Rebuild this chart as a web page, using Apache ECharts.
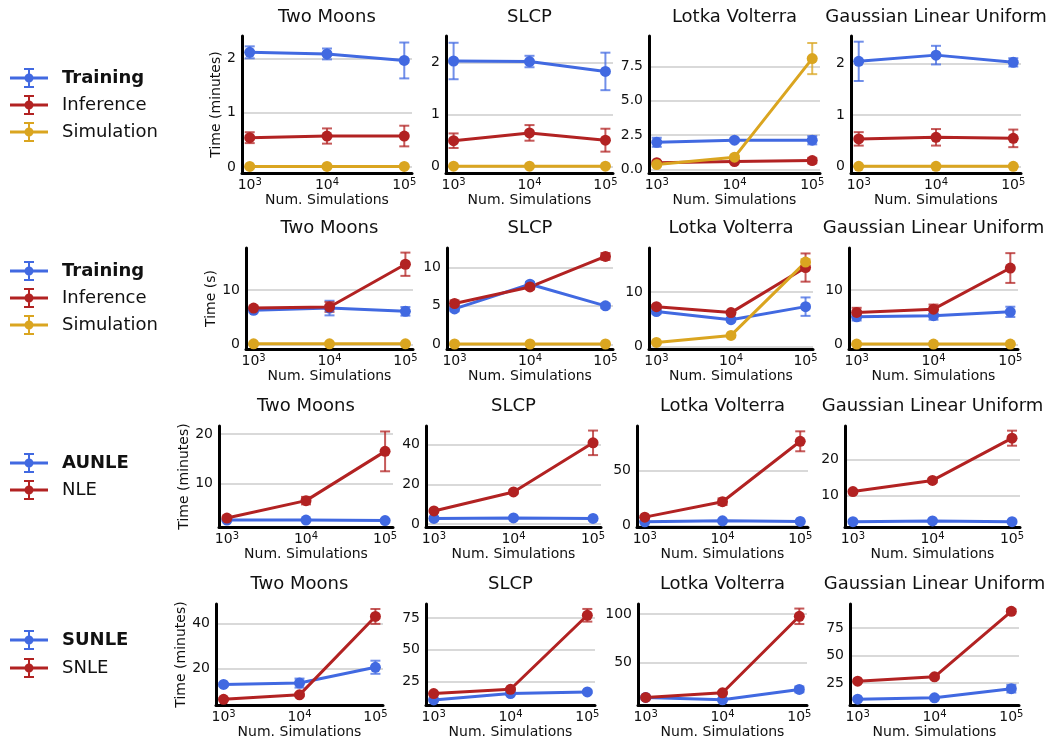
<!DOCTYPE html>
<html>
<head>
<meta charset="utf-8">
<script src="https://cdn.jsdelivr.net/npm/echarts@6/dist/echarts.min.js"></script>
<style>
  html, body { margin: 0; background: #fff; }
  #chart { width: 1050px; height: 740px; }
</style>
</head>
<body>
<div id="chart"></div>
<script>
// x values and panel titles
const numSims = [1000, 10000, 100000];
const tasks = ['Two Moons', 'SLCP', 'Lotka Volterra', 'Gaussian Linear Uniform'];

// row 1 - runtime breakdown (minutes), one sub-array per task
const trainMin = [[2.11, 2.08, 1.96], [2.03, 2.02, 1.83], [1.98, 2.13, 2.13], [2.04, 2.16, 2.02]];
const trainMinErr = [[0.11, 0.10, 0.33], [0.35, 0.11, 0.36], [0.33, 0.12, 0.30], [0.38, 0.18, 0.08]];
const inferMin = [[0.54, 0.57, 0.57], [0.50, 0.65, 0.51], [0.50, 0.58, 0.65], [0.54, 0.57, 0.55]];
const inferMinErr = [[0.10, 0.14, 0.19], [0.14, 0.15, 0.22], [0.10, 0.08, 0.20], [0.13, 0.16, 0.17]];
const simMin = [[0.01, 0.01, 0.01], [0.01, 0.01, 0.01], [0.36, 0.90, 8.06], [0.01, 0.01, 0.01]];
const simMinErr = [[0.005, 0.005, 0.005], [0.005, 0.005, 0.005], [0.05, 0.10, 1.13], [0.005, 0.005, 0.005]];

// row 2 - runtime breakdown (seconds)
const trainSec = [[6.3, 6.7, 6.1], [4.6, 7.8, 5.0], [6.4, 4.9, 7.3], [5.1, 5.3, 6.0]];
const trainSecErr = [[0.4, 1.35, 0.8], [0.3, 0.3, 0.3], [0.4, 0.3, 1.7], [0.7, 0.75, 0.95]];
const inferSec = [[6.7, 6.9, 14.8], [5.3, 7.45, 11.4], [7.3, 6.2, 14.5], [5.9, 6.5, 14.1]];
const inferSecErr = [[0.3, 0.9, 2.15], [0.4, 0.3, 0.45], [0.3, 0.3, 2.6], [0.85, 0.85, 2.75]];
const simSec = [[0.1, 0.1, 0.1], [0.05, 0.05, 0.05], [0.7, 2.0, 15.5], [0.05, 0.05, 0.05]];
const simSecErr = [[0.02, 0.02, 0.02], [0.02, 0.02, 0.02], [0.1, 0.15, 0.5], [0.02, 0.02, 0.02]];

// row 3 - AUNLE vs NLE (minutes)
const aunle = [[2.7, 2.7, 2.6], [2.8, 3.1, 2.8], [3.6, 4.5, 3.9], [2.7, 2.9, 2.7]];
const aunleErr = [[0.2, 0.2, 0.2], [0.3, 0.3, 0.3], [0.5, 0.5, 0.5], [0.2, 0.2, 0.2]];
const nle = [[3.1, 6.6, 16.5], [6.6, 16.2, 41.0], [7.8, 21.7, 76.2], [11.1, 14.2, 26.0]];
const nleErr = [[0.3, 0.75, 4.0], [0.5, 0.8, 6.2], [0.8, 3.0, 9.0], [0.3, 0.5, 2.1]];

// row 4 - SUNLE vs SNLE (minutes)
const sunle = [[13.1, 13.7, 20.7], [10.3, 15.3, 16.6], [13.8, 11.4, 22.1], [10.5, 11.7, 20.0]];
const sunleErr = [[0.6, 2.0, 2.9], [0.5, 0.8, 0.9], [0.8, 0.7, 3.0], [0.8, 1.0, 3.5]];
const snle = [[6.5, 8.5, 43.2], [15.3, 18.7, 77.1], [13.8, 18.6, 97.6], [26.8, 30.8, 90.2]];
const snleErr = [[0.5, 0.6, 3.3], [0.6, 1.0, 5.0], [0.8, 1.2, 8.0], [0.8, 1.5, 2.0]];

// y tick labels and y extents per panel
const yTicks1 = [[0, 1, 2], [0, 1, 2], [0, 2.5, 5, 7.5], [0, 1, 2]];
const yTicks2 = [[0, 10], [0, 5, 10], [0, 10], [0, 10]];
const yTicks3 = [[10, 20], [0, 20, 40], [0, 50], [10, 20]];
const yTicks4 = [[20, 40], [25, 50, 75], [50, 100], [25, 50, 75]];
const yRange1 = [[-0.11, 2.41], [-0.12, 2.51], [-0.25, 9.7], [-0.12, 2.53]];
const yRange2 = [[-0.86, 17.8], [-0.6, 12.5], [-0.5, 18.1], [-0.86, 17.8]];
const yRange3 = [[1.3, 21.6], [-1.5, 49.5], [-1.1, 90], [1.2, 29.4]];
const yRange4 = [[4.0, 48.7], [6.3, 86], [6.0, 110.3], [5.2, 96.8]];

const BLUE = '#4169e1', RED = '#b22222', GOLD = '#daa520';
const FONT = 'DejaVu Sans';
const TXT = '#111';

const rows = [
    { yName: 'Time (minutes)', yTicks: yTicks1, yRange: yRange1, bold: 'Training', methods: [
        { name: 'Training', color: BLUE, vals: trainMin, errs: trainMinErr },
        { name: 'Inference', color: RED, vals: inferMin, errs: inferMinErr },
        { name: 'Simulation', color: GOLD, vals: simMin, errs: simMinErr } ] },
    { yName: 'Time (s)', yTicks: yTicks2, yRange: yRange2, bold: 'Training', methods: [
        { name: 'Training', color: BLUE, vals: trainSec, errs: trainSecErr },
        { name: 'Inference', color: RED, vals: inferSec, errs: inferSecErr },
        { name: 'Simulation', color: GOLD, vals: simSec, errs: simSecErr } ] },
    { yName: 'Time (minutes)', yTicks: yTicks3, yRange: yRange3, bold: 'AUNLE', methods: [
        { name: 'AUNLE', color: BLUE, vals: aunle, errs: aunleErr },
        { name: 'NLE', color: RED, vals: nle, errs: nleErr } ] },
    { yName: 'Time (minutes)', yTicks: yTicks4, yRange: yRange4, bold: 'SUNLE', methods: [
        { name: 'SUNLE', color: BLUE, vals: sunle, errs: sunleErr },
        { name: 'SNLE', color: RED, vals: snle, errs: snleErr } ] }
];

// layout (pixels)
const rowTop = [36, 248, 426, 604];
const rowBottom = [173, 349, 527, 705];
const colSpan = [
    [[242, 412], [446, 613], [649, 820], [851, 1021]],
    [[246, 413], [447, 613], [649, 813], [849, 1018]],
    [[219, 393], [426, 601], [637, 808], [845, 1020]],
    [[216, 383], [426, 595], [638, 807], [850, 1019]]
];
const yNameGap = [15, 26, 26, 25];
const titleTop = [8, 219, 397, 575];
const legendTop = [63, 256, 448, 625];
const legendGap = [7, 7, 7, 8];

// line + error bar + marker legend glyph
const ERR_ICON = 'path://M0 8.5H38V11.5H0Z M18 1H20V19H18Z M14 0H24V2H14Z M14 18H24V20H14Z M23.5 10A4.5 4.5 0 1 1 14.5 10A4.5 4.5 0 1 1 23.5 10Z';

function errBar(color) {
    return function (params, api) {
        const hi = api.coord([api.value(0), api.value(2)]);
        const lo = api.coord([api.value(0), api.value(1)]);
        const x = hi[0], w = 5;
        const style = { stroke: color, lineWidth: 2, opacity: 0.75 };
        return { type: 'group', children: [
            { type: 'line', shape: { x1: x, y1: hi[1], x2: x, y2: lo[1] }, style: style },
            { type: 'line', shape: { x1: x - w, y1: hi[1], x2: x + w, y2: hi[1] }, style: style },
            { type: 'line', shape: { x1: x - w, y1: lo[1], x2: x + w, y2: lo[1] }, style: style }
        ] };
    };
}

const grids = [], xAxes = [], yAxes = [], titles = [], legends = [], series = [];

rows.forEach((row, r) => {
    legends.push({
        orient: 'vertical', left: 5, top: legendTop[r],
        itemWidth: 38, itemHeight: 20, itemGap: legendGap[r],
        icon: ERR_ICON, selectedMode: false,
        itemStyle: { borderWidth: 0 },
        data: row.methods.map(m => m.name),
        formatter: n => (n === row.bold ? '{b|' + n + '}' : '{n|' + n + '}'),
        textStyle: { fontFamily: FONT, fontSize: 18, color: TXT, rich: {
            b: { fontFamily: FONT, fontSize: 18, fontWeight: 'bold', color: TXT, padding: [0, 0, 0, 9] },
            n: { fontFamily: FONT, fontSize: 18, color: TXT, padding: [0, 0, 0, 9] } } }
    });

    tasks.forEach((task, c) => {
        const g = grids.length;
        const [l, rt] = colSpan[r][c];
        grids.push({ left: l, top: rowTop[r], width: rt - l, height: rowBottom[r] - rowTop[r],
            outerBoundsMode: 'none', containLabel: false });

        titles.push({ text: task, left: (l + rt) / 2, top: titleTop[r], textAlign: 'center', padding: 0,
            textStyle: { fontFamily: FONT, fontSize: 18, fontWeight: 'normal', color: TXT } });

        xAxes.push({
            type: 'log', logBase: 10, gridIndex: g,
            min: Math.pow(10, 2.9), max: Math.pow(10, 5.1),
            axisLine: { onZero: false, lineStyle: { color: '#000', width: 3 } },
            axisTick: { show: false },
            splitLine: { show: false },
            axisLabel: { showMinLabel: false, showMaxLabel: false, margin: 4,
                fontFamily: FONT, fontSize: 14, color: TXT,
                formatter: v => '{a|10}{s|' + Math.round(Math.log10(v)) + '}',
                rich: {
                    a: { fontFamily: FONT, fontSize: 14, lineHeight: 17, color: TXT },
                    s: { fontFamily: FONT, fontSize: 10, lineHeight: 10, verticalAlign: 'top', color: TXT }
                } },
            name: 'Num. Simulations', nameLocation: 'middle', nameGap: 20,
            nameTextStyle: { fontFamily: FONT, fontSize: 14, color: TXT }
        });

        const ticks = row.yTicks[c];
        const dec = ticks.some(t => t % 1 !== 0) ? 1 : 0;
        yAxes.push({
            type: 'value', gridIndex: g,
            min: row.yRange[c][0], max: row.yRange[c][1],
            axisLine: { show: true, onZero: false, lineStyle: { color: '#000', width: 3 } },
            axisTick: { show: false, customValues: ticks },
            axisLabel: { customValues: ticks, margin: 6, fontFamily: FONT, fontSize: 14, color: TXT,
                formatter: v => v.toFixed(dec) },
            splitLine: { show: true, lineStyle: { color: '#cccccc', width: 1.5 } },
            name: c === 0 ? row.yName : '', nameLocation: 'middle', nameGap: yNameGap[r],
            nameTextStyle: { fontFamily: FONT, fontSize: 14, color: TXT }
        });

        row.methods.forEach(m => {
            const v = m.vals[c], e = m.errs[c];
            series.push({
                type: 'custom', name: m.name + ' err', xAxisIndex: g, yAxisIndex: g,
                renderItem: errBar(m.color), silent: true, clip: false,
                encode: { x: 0, y: [1, 2] },
                data: numSims.map((n, i) => [n, v[i] - e[i], v[i] + e[i]])
            });
            series.push({
                type: 'line', name: m.name, xAxisIndex: g, yAxisIndex: g,
                color: m.color, symbol: 'circle', symbolSize: 11, silent: true,
                lineStyle: { width: 3, color: m.color },
                itemStyle: { color: m.color },
                data: numSims.map((n, i) => [n, v[i]])
            });
        });
    });
});

const chart = echarts.init(document.getElementById('chart'));
chart.setOption({
    backgroundColor: '#ffffff',
    animation: false,
    title: titles,
    legend: legends,
    grid: grids,
    xAxis: xAxes,
    yAxis: yAxes,
    series: series
});
</script>
</body>
</html>
